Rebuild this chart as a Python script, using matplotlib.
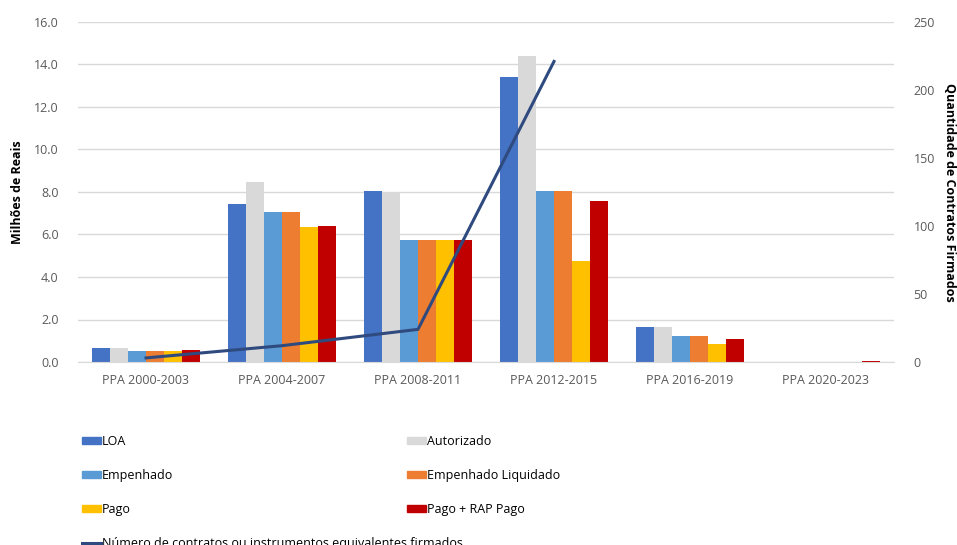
import matplotlib
matplotlib.use("Agg")
import matplotlib.pyplot as plt
import numpy as np
from matplotlib.patches import Patch
from matplotlib.lines import Line2D

plt.rcParams['font.family'] = ['Open Sans', 'DejaVu Sans']

categories = ["PPA 2000-2003", "PPA 2004-2007", "PPA 2008-2011",
              "PPA 2012-2015", "PPA 2016-2019", "PPA 2020-2023"]

loa = [0.64, 7.44, 8.06, 13.40, 1.66, 0.0]
autorizado = [0.64, 8.48, 8.00, 14.40, 1.63, 0.0]
empenhado = [0.52, 7.07, 5.73, 8.03, 1.21, 0.0]
empenhado_liquidado = [0.52, 7.07, 5.73, 8.03, 1.21, 0.0]
pago = [0.52, 6.37, 5.73, 4.74, 0.85, 0.0]
pago_rap = [0.55, 6.40, 5.73, 7.56, 1.07, 0.05]

contratos = [3, 12, 24, 221, np.nan, np.nan]

series = [
    ("LOA", loa, "#4472C4"),
    ("Autorizado", autorizado, "#D9D9D9"),
    ("Empenhado", empenhado, "#5B9BD5"),
    ("Empenhado Liquidado", empenhado_liquidado, "#ED7D31"),
    ("Pago", pago, "#FFC000"),
    ("Pago + RAP Pago", pago_rap, "#C00000"),
]
line_label = "Número de contratos ou instrumentos equivalentes firmados"
line_color = "#2F4A7E"

fig = plt.figure(figsize=(9.57, 5.45), dpi=100)
ax = fig.add_axes([78 / 957, 183 / 545, 816 / 957, 340 / 545])
ax2 = ax.twinx()

x = np.arange(len(categories))
n = len(series)
width = 0.8 / n
for i, (name, vals, color) in enumerate(series):
    ax.bar(x - 0.4 + width * (i + 0.5), vals, width, color=color, zorder=2)

ax2.plot(x, contratos, color=line_color, lw=2.2, zorder=3)

ax.set_xlim(-0.5, len(categories) - 0.5)
ax.set_ylim(0, 16)
ax.set_yticks(np.arange(0, 16.1, 2))
ax.set_yticklabels([f"{v:.1f}" for v in np.arange(0, 16.1, 2)])
ax2.set_ylim(0, 250)
ax2.set_yticks(np.arange(0, 251, 50))

ax.set_xticks(x)
ax.set_xticklabels(categories)

ax.yaxis.grid(True, color="#D9D9D9", lw=1, zorder=0)
ax.set_axisbelow(True)
ax2.set_zorder(ax.get_zorder() + 1)
ax2.patch.set_visible(False)

for a in (ax, ax2):
    for s in a.spines.values():
        s.set_visible(False)
    a.tick_params(length=0, labelsize=9, labelcolor="#595959")
ax.spines['bottom'].set_visible(True)
ax.spines['bottom'].set_color("#D9D9D9")
ax.tick_params(axis='x', pad=9)
ax.tick_params(axis='y', pad=14)
ax2.tick_params(axis='y', pad=14)

ax.set_ylabel("Milhões de Reais", fontsize=9, fontweight="bold",
              va="center")
ax.yaxis.set_label_coords((18 - 78) / 816, 0.5)
ax2.set_ylabel("Quantidade de Contratos Firmados", fontsize=9,
               fontweight="bold", rotation=-90, va="center")
ax2.yaxis.set_label_coords((949 - 78) / 816, 0.5)

left_handles = [Patch(color=series[0][2]), Patch(color=series[2][2]),
                Patch(color=series[4][2]), Line2D([], [], color=line_color, lw=2.2)]
left_labels = [series[0][0], series[2][0], series[4][0], line_label]
right_handles = [Patch(color=series[1][2]), Patch(color=series[3][2]),
                 Patch(color=series[5][2])]
right_labels = [series[1][0], series[3][0], series[5][0]]

leg_kw = dict(frameon=False, fontsize=9, handlelength=1.5, handleheight=0.55,
              handletextpad=0.1, labelspacing=1.68, borderaxespad=0,
              borderpad=0)
fig.legend(left_handles, left_labels, loc="upper left",
           bbox_to_anchor=(82 / 957, 1 - 435 / 545), **leg_kw)
fig.legend(right_handles, right_labels, loc="upper left",
           bbox_to_anchor=(407 / 957, 1 - 435 / 545), **leg_kw)

fig.savefig("out.png", dpi=100)
